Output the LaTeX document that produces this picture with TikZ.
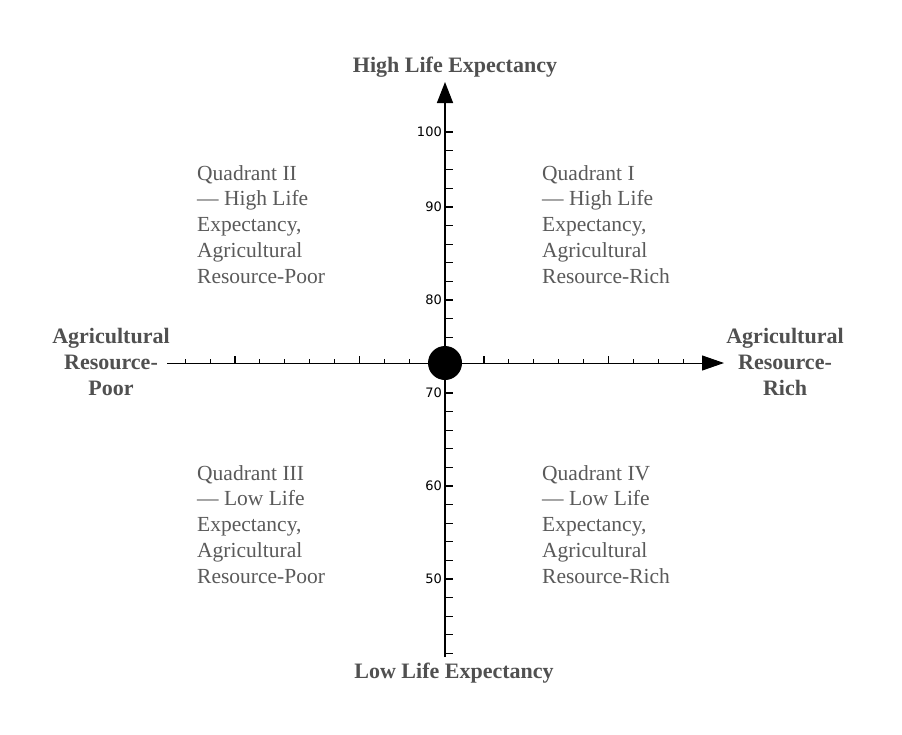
\documentclass[tikz,border=0pt]{standalone}
\usepackage{fontspec}
\setmainfont{Liberation Serif}
\newfontfamily\tickfont{DejaVu Sans}
\usetikzlibrary{arrows.meta}
\definecolor{titlegray}{RGB}{80,80,80}
\definecolor{quadgray}{RGB}{90,90,90}
\begin{document}
\begin{tikzpicture}[x=1pt,y=-1pt,
  axistitle/.style={font=\fontsize{22}{26}\selectfont\bfseries, text=titlegray, inner sep=0pt},
  quadtext/.style={font=\fontsize{21.5}{25.8}\selectfont, text=quadgray, align=left, anchor=north west, inner sep=0pt},
  ticklabel/.style={font=\tickfont\fontsize{13}{15}\selectfont, anchor=east, inner sep=0pt},
  minortick/.style={line width=0.9pt},
  majortick/.style={line width=2.4pt},
  hminor/.style={line width=0.8pt},
  hmajor/.style={line width=1.4pt}]
\useasboundingbox[fill=white] (0,0) rectangle (902,734);

% axis end points
\coordinate (xl) at (167,363);
\coordinate (xr) at (724,363);
\coordinate (yb) at (445,657);
\coordinate (yt) at (445,82);

% horizontal ticks
\foreach \k in {0,...,20}{
  \pgfmathsetmacro{\xx}{185+24.9*\k}
  \ifnum\k=2 \draw[hmajor] (\xx,363) -- (\xx,356);
  \else\ifnum\k=7 \draw[hmajor] (\xx,363) -- (\xx,356);
  \else\ifnum\k=12 \draw[hmajor] (\xx,363) -- (\xx,356);
  \else\ifnum\k=17 \draw[hmajor] (\xx,363) -- (\xx,356);
  \else \draw[hminor] (\xx,363) -- (\xx,358.5);
  \fi\fi\fi\fi
}

% vertical minor ticks
\foreach \yy in {150.75,169.5,188.25,225.6,244.2,262.8,281.4,318.6,337.2,355.8,374.4,411.6,430.2,448.8,467.4,504.6,523.2,541.8,560.4,597.6,616.2,634.8,653.4}{
  \draw[minortick] (445,\yy) -- (453,\yy);
}
% vertical major ticks and labels
\foreach \yy/\lab in {132/100,207/90,300/80,393/70,486/60,579/50}{
  \draw[majortick] (445,\yy) -- (453,\yy);
  \node[ticklabel] (t\lab) at (442,\yy) {\lab};
}

% axes
\draw[line width=1pt, -{Triangle[length=22pt,width=15pt]}] (xl) -- (xr);
\draw[line width=1.5pt, -{Triangle[length=21pt,width=16pt]}] (yb) -- (yt);

% origin dot
\node[circle, fill=black, minimum size=34pt, inner sep=0pt] (o) at (445,363) {};

% axis titles
\node[axistitle, anchor=base] (top) at (455,72) {High Life Expectancy};
\node[axistitle, anchor=base] (bottom) at (454,678) {Low Life Expectancy};
\node[axistitle, align=center, anchor=north] (left) at (111,328) {Agricultural\\Resource-\\Poor};
\node[axistitle, align=center, anchor=north] (right) at (785,328) {Agricultural\\Resource-\\Rich};

% quadrant texts
\node[quadtext] (q2) at (197,165) {Quadrant II\\--- High Life\\Expectancy,\\Agricultural\\Resource-Poor};
\node[quadtext] (q1) at (542,165) {Quadrant I\\--- High Life\\Expectancy,\\Agricultural\\Resource-Rich};
\node[quadtext] (q3) at (197,465) {Quadrant III\\--- Low Life\\Expectancy,\\Agricultural\\Resource-Poor};
\node[quadtext] (q4) at (542,465) {Quadrant IV\\--- Low Life\\Expectancy,\\Agricultural\\Resource-Rich};
\end{tikzpicture}
\end{document}
